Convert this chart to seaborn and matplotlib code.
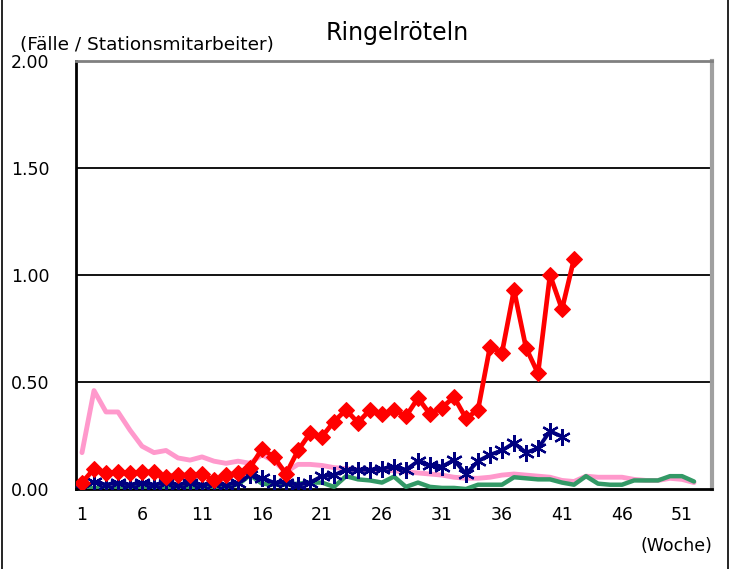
import numpy as np
import pandas as pd
import matplotlib
matplotlib.use("Agg")
import matplotlib.pyplot as plt
import seaborn as sns
from matplotlib.lines import Line2D

# data
weeks = list(range(1, 53))

pink = [0.17, 0.46, 0.36, 0.36, 0.275, 0.20, 0.17, 0.18, 0.145, 0.135,
        0.15, 0.13, 0.12, 0.13, 0.12, 0.16, 0.13, 0.08, 0.115, 0.115,
        0.11, 0.10, 0.095, 0.09, 0.09, 0.09, 0.085, 0.08, 0.075, 0.07,
        0.065, 0.055, 0.05, 0.05, 0.055, 0.065, 0.07, 0.065, 0.06, 0.055,
        0.04, 0.035, 0.06, 0.055, 0.055, 0.055, 0.045, 0.04, 0.04, 0.05,
        0.045, 0.03]

green = [0.0, 0.005, 0.005, 0.005, 0.01, 0.01, 0.01, 0.01, 0.01, 0.01,
         0.01, 0.01, 0.01, 0.02, 0.065, 0.025, 0.02, 0.02, 0.025, 0.03,
         0.03, 0.01, 0.06, 0.045, 0.04, 0.03, 0.058, 0.01, 0.03, 0.01,
         0.005, 0.005, 0.0, 0.02, 0.02, 0.02, 0.055, 0.05, 0.045, 0.045,
         0.03, 0.02, 0.06, 0.025, 0.02, 0.02, 0.04, 0.04, 0.04, 0.06,
         0.06, 0.035]

blue = [0.0, 0.035, 0.02, 0.03, 0.02, 0.03, 0.02, 0.03, 0.02, 0.03,
        0.02, 0.025, 0.02, 0.03, 0.065, 0.05, 0.03, 0.03, 0.02, 0.03,
        0.06, 0.065, 0.09, 0.09, 0.09, 0.095, 0.105, 0.09, 0.13, 0.11,
        0.105, 0.135, 0.07, 0.13, 0.16, 0.18, 0.215, 0.17, 0.19, 0.27,
        0.245]

red = [0.03, 0.094, 0.075, 0.08, 0.075, 0.08, 0.08, 0.058, 0.065, 0.065,
       0.07, 0.04, 0.065, 0.075, 0.10, 0.187, 0.15, 0.07, 0.18, 0.26,
       0.245, 0.315, 0.37, 0.31, 0.37, 0.35, 0.37, 0.34, 0.425, 0.35,
       0.38, 0.43, 0.33, 0.37, 0.665, 0.637, 0.93, 0.66, 0.54, 1.0,
       0.84, 1.075]

yticks = [0.0, 0.5, 1.0, 1.5, 2.0]
xticks = [1, 6, 11, 16, 21, 26, 31, 36, 41, 46, 51]

sns.set_style("white")
plt.rcParams['font.family'] = ['DejaVu Sans']
plt.rcParams['text.color'] = 'black'
plt.rcParams['xtick.color'] = 'black'
plt.rcParams['ytick.color'] = 'black'
plt.rcParams['xtick.labelcolor'] = 'black'
plt.rcParams['ytick.labelcolor'] = 'black'

fig = plt.figure(figsize=(7.32, 5.69), dpi=100)
W, H = 732, 569
ax = fig.add_axes([76 / W, 1 - 489 / H, (712 - 76) / W, (489 - 61) / H])

# gridlines
for y in yticks[1:-1]:
    ax.axhline(y, color="black", lw=1.3, zorder=0)

sns.lineplot(x=weeks, y=pink, color="#FF99CC", lw=3.5, ax=ax, zorder=2)
sns.lineplot(x=weeks, y=green, color="#339966", lw=3.2, ax=ax, zorder=3)
sns.lineplot(x=weeks[:len(blue)], y=blue, color="#000080", lw=2.8,
             marker=(6, 2, 0), markersize=12, markeredgewidth=1.6,
             markeredgecolor="#000080", ax=ax, zorder=4)
sns.lineplot(x=weeks[:len(red)], y=red, color="#FF0000", lw=3.4,
             marker="D", markersize=8.5, markeredgecolor="#FF0000",
             ax=ax, zorder=5)

ax.set_xlim(0.5, 53.5)
ax.set_ylim(0, 2.0)
ax.set_yticks(yticks)
ax.set_yticklabels([f"{v:.2f}" for v in yticks])
ax.set_xticks(xticks)
ax.set_xticklabels([str(v) for v in xticks])
ax.set_xticks([0.5 + 5 * k for k in range(1, 11)], minor=True)
ax.tick_params(axis="x", which="major", length=0, pad=12, labelsize=12.5)
ax.tick_params(axis="x", which="minor", direction="in", length=4,
               width=1, color="black")
ax.tick_params(axis="y", length=0, pad=19, labelsize=12.5)

for s in ["left", "bottom"]:
    ax.spines[s].set_color("black")
    ax.spines[s].set_linewidth(2)
ax.spines["top"].set_color("#808080")
ax.spines["top"].set_linewidth(2)
ax.spines["right"].set_color("#A0A0A0")
ax.spines["right"].set_linewidth(3)

fig.text(397 / W, 1 - 33 / H, "Ringelröteln", ha="center", va="center",
         fontsize=17)
fig.text(20 / W, 1 - 45 / H, "(Fälle / Stationsmitarbeiter)", ha="left",
         va="center", fontsize=13.3)
fig.text(676 / W, 1 - 546 / H, "(Woche)", ha="center", va="center",
         fontsize=12.5)

# outer chart frame
fig.add_artist(Line2D([2 / W, 2 / W], [0, 1], color="black", lw=1.2,
                      transform=fig.transFigure))
fig.add_artist(Line2D([728 / W, 728 / W], [0, 1], color="black", lw=1.2,
                      transform=fig.transFigure))

fig.savefig("out.png", dpi=100)
